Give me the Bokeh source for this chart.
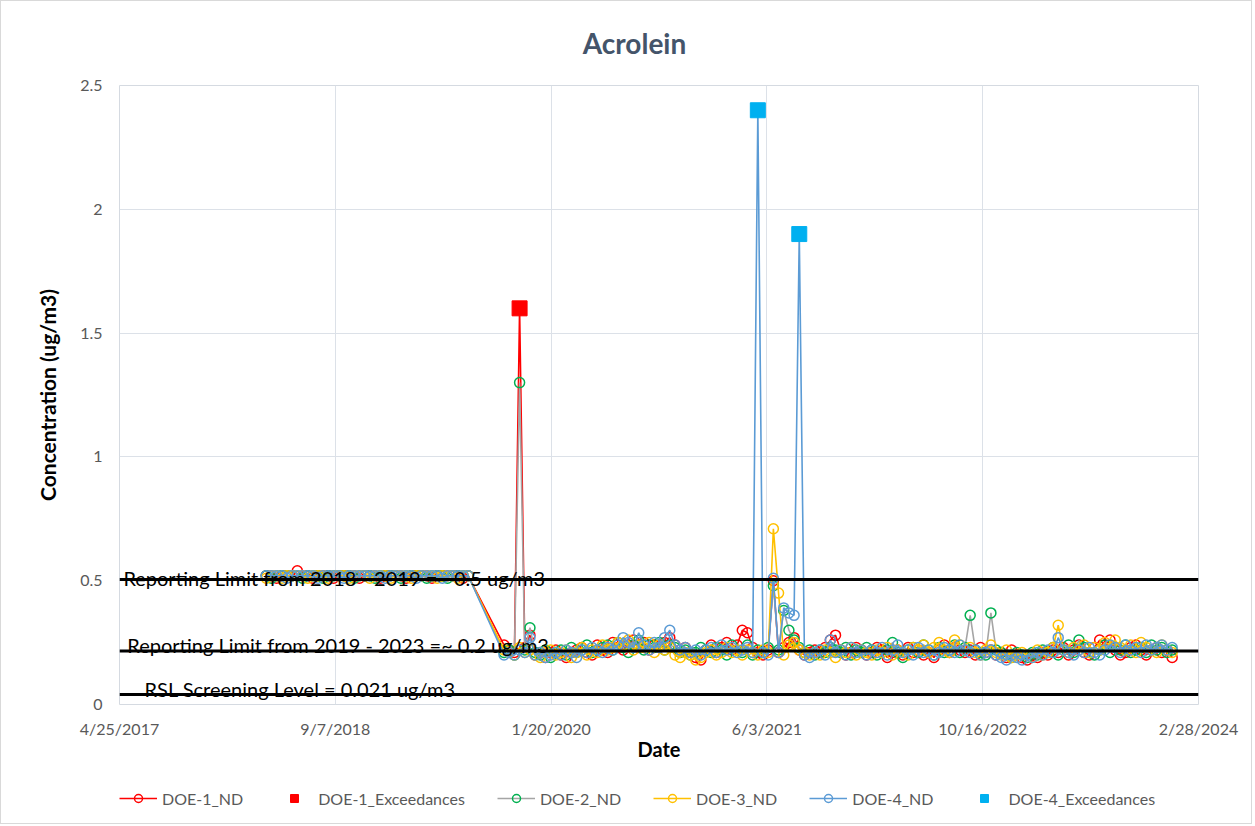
from datetime import datetime
from bokeh.plotting import figure
from bokeh.layouts import column
from bokeh.models import (Range1d, FixedTicker, Span, Label, Legend, LegendItem)
from bokeh.embed import file_html
from bokeh.resources import INLINE

# ---------------- data ----------------
chart_title = "Acrolein"
x_axis_title = "Date"
y_axis_title = "Concentration (ug/m3)"
x_tick_labels = ["4/25/2017", "9/7/2018", "1/20/2020", "6/3/2021", "10/16/2022", "2/28/2024"]
y_ticks = [0, 0.5, 1, 1.5, 2, 2.5]
y_tick_labels = ["0", "0.5", "1", "1.5", "2", "2.5"]

dates_2018_2019 = [
    "2018-03-31", "2018-04-12", "2018-04-24", "2018-05-06", "2018-05-18", "2018-05-30", "2018-06-11",
    "2018-06-23", "2018-07-05", "2018-07-17", "2018-07-29", "2018-08-10", "2018-08-22", "2018-09-03",
    "2018-09-15", "2018-09-27", "2018-10-09", "2018-10-21", "2018-11-02", "2018-11-14", "2018-11-26",
    "2018-12-08", "2018-12-20", "2019-01-01", "2019-01-13", "2019-01-25", "2019-02-06", "2019-02-18",
    "2019-03-02", "2019-03-14", "2019-03-26", "2019-04-07", "2019-04-19", "2019-05-01", "2019-05-13",
    "2019-05-25", "2019-06-06", "2019-06-18", "2019-06-30", "2019-07-12"]

dates_2019_2023 = [
    "2019-10-03", "2019-10-15", "2019-10-27", "2019-11-08", "2019-11-20", "2019-12-02", "2019-12-14", "2019-12-26",
    "2020-01-07", "2020-01-19", "2020-01-31", "2020-02-12", "2020-02-24", "2020-03-07", "2020-03-19", "2020-03-31",
    "2020-04-12", "2020-04-24", "2020-05-06", "2020-05-18", "2020-05-30", "2020-06-11", "2020-06-23", "2020-07-05",
    "2020-07-17", "2020-07-29", "2020-08-10", "2020-08-22", "2020-09-03", "2020-09-15", "2020-09-27", "2020-10-09",
    "2020-10-21", "2020-11-02", "2020-11-14", "2020-11-26", "2020-12-08", "2020-12-20",
    "2021-01-01", "2021-01-13", "2021-01-25", "2021-02-06", "2021-02-18", "2021-03-02", "2021-03-14", "2021-03-26",
    "2021-04-07", "2021-04-19", "2021-05-01", "2021-05-13", "2021-05-25", "2021-06-06", "2021-06-18", "2021-06-30",
    "2021-07-12", "2021-07-24", "2021-08-05", "2021-08-17", "2021-08-29", "2021-09-10", "2021-09-22", "2021-10-04",
    "2021-10-16", "2021-10-28", "2021-11-09", "2021-11-21", "2021-12-03", "2021-12-15", "2021-12-27",
    "2022-01-08", "2022-01-20", "2022-02-01", "2022-02-13", "2022-02-25", "2022-03-09", "2022-03-21", "2022-04-02",
    "2022-04-14", "2022-04-26", "2022-05-08", "2022-05-20", "2022-06-01", "2022-06-13", "2022-06-25", "2022-07-07",
    "2022-07-19", "2022-07-31", "2022-08-12", "2022-08-24", "2022-09-05", "2022-09-17", "2022-09-29", "2022-10-11",
    "2022-10-23", "2022-11-04", "2022-11-16", "2022-11-28", "2022-12-10", "2022-12-22",
    "2023-01-03", "2023-01-15", "2023-01-27", "2023-02-08", "2023-02-20", "2023-03-04", "2023-03-16", "2023-03-28",
    "2023-04-09", "2023-04-21", "2023-05-03", "2023-05-15", "2023-05-27", "2023-06-08", "2023-06-20", "2023-07-02",
    "2023-07-14", "2023-07-26", "2023-08-07", "2023-08-19", "2023-08-31", "2023-09-12", "2023-09-24", "2023-10-06",
    "2023-10-18", "2023-10-30", "2023-11-11", "2023-11-23", "2023-12-05", "2023-12-17", "2023-12-29"]

doe1_2018_2019 = [0.52, 0.52, 0.51, 0.52, 0.52, 0.52, 0.54, 0.52, 0.52, 0.51,
                  0.52, 0.52, 0.52, 0.51, 0.52, 0.52, 0.52, 0.52, 0.51, 0.52,
                  0.52, 0.52, 0.51, 0.52, 0.52, 0.52, 0.52, 0.51, 0.52, 0.52,
                  0.52, 0.52, 0.51, 0.52, 0.52, 0.52, 0.52, 0.52, 0.51, 0.52]
doe2_2018_2019 = [0.52, 0.51, 0.52, 0.52, 0.52, 0.52, 0.52, 0.51, 0.52, 0.52,
                  0.52, 0.51, 0.52, 0.52, 0.52, 0.52, 0.52, 0.51, 0.52, 0.52,
                  0.52, 0.51, 0.52, 0.52, 0.52, 0.52, 0.51, 0.52, 0.52, 0.52,
                  0.52, 0.51, 0.52, 0.52, 0.52, 0.51, 0.52, 0.52, 0.52, 0.52]
doe3_2018_2019 = [0.51, 0.52, 0.52, 0.51, 0.52, 0.52, 0.52, 0.52, 0.51, 0.52,
                  0.52, 0.52, 0.51, 0.52, 0.52, 0.52, 0.51, 0.52, 0.52, 0.52,
                  0.51, 0.52, 0.52, 0.52, 0.51, 0.52, 0.52, 0.52, 0.51, 0.52,
                  0.52, 0.52, 0.52, 0.51, 0.52, 0.52, 0.52, 0.51, 0.52, 0.52]
doe4_2018_2019 = [0.52, 0.52, 0.52, 0.52, 0.51, 0.52, 0.52, 0.52, 0.52, 0.52,
                  0.51, 0.52, 0.52, 0.52, 0.52, 0.51, 0.52, 0.52, 0.52, 0.52,
                  0.52, 0.52, 0.52, 0.51, 0.52, 0.52, 0.52, 0.52, 0.52, 0.51,
                  0.52, 0.52, 0.52, 0.52, 0.51, 0.52, 0.52, 0.52, 0.52, 0.52]

doe1_2019_2023 = [0.24, 0.22, 0.21, 1.60, 0.23, 0.28, 0.20, 0.21, 0.19, 0.21,
                  0.22, 0.20, 0.19, 0.21, 0.22, 0.23, 0.21, 0.20, 0.24, 0.22,
                  0.21, 0.25, 0.23, 0.22, 0.24, 0.26, 0.23, 0.25, 0.22, 0.24,
                  0.23, 0.25, 0.27, 0.24, 0.22, 0.23, 0.21, 0.19, 0.18, 0.22,
                  0.24, 0.21, 0.23, 0.25, 0.22, 0.24, 0.30, 0.29, 0.23, 0.21,
                  0.20, 0.22, 0.50, 0.21, 0.23, 0.25, 0.27, 0.22, 0.20, 0.21,
                  0.22, 0.21, 0.23, 0.26, 0.28, 0.22, 0.20, 0.21, 0.23, 0.22,
                  0.20, 0.21, 0.23, 0.22, 0.19, 0.21, 0.22, 0.20, 0.23, 0.21,
                  0.22, 0.20, 0.21, 0.19, 0.22, 0.24, 0.21, 0.23, 0.22, 0.21,
                  0.22, 0.20, 0.23, 0.21, 0.22, 0.20, 0.21, 0.19, 0.22, 0.20,
                  0.19, 0.18, 0.20, 0.19, 0.21, 0.20, 0.22, 0.21, 0.23, 0.20,
                  0.22, 0.24, 0.21, 0.20, 0.23, 0.26, 0.24, 0.26, 0.22, 0.20,
                  0.21, 0.23, 0.24, 0.22, 0.20, 0.22, 0.23, 0.21, 0.22, 0.19]
doe2_2019_2023 = [0.21, 0.22, 0.20, 1.30, 0.22, 0.31, 0.21, 0.20, 0.22, 0.19,
                  0.21, 0.22, 0.20, 0.23, 0.21, 0.22, 0.24, 0.21, 0.22, 0.23,
                  0.24, 0.22, 0.25, 0.23, 0.21, 0.24, 0.26, 0.22, 0.24, 0.23,
                  0.25, 0.22, 0.24, 0.23, 0.21, 0.22, 0.20, 0.21, 0.23, 0.22,
                  0.21, 0.23, 0.22, 0.20, 0.24, 0.22, 0.21, 0.24, 0.20, 0.22,
                  0.21, 0.23, 0.48, 0.22, 0.38, 0.30, 0.26, 0.23, 0.21, 0.22,
                  0.20, 0.22, 0.21, 0.23, 0.22, 0.21, 0.23, 0.20, 0.22, 0.21,
                  0.23, 0.22, 0.20, 0.21, 0.22, 0.25, 0.21, 0.19, 0.22, 0.23,
                  0.21, 0.24, 0.22, 0.20, 0.23, 0.21, 0.22, 0.24, 0.21, 0.23,
                  0.36, 0.22, 0.21, 0.20, 0.37, 0.22, 0.21, 0.20, 0.19, 0.21,
                  0.20, 0.19, 0.21, 0.20, 0.22, 0.21, 0.23, 0.20, 0.22, 0.24,
                  0.21, 0.26, 0.23, 0.21, 0.20, 0.22, 0.24, 0.21, 0.23, 0.22,
                  0.24, 0.21, 0.22, 0.23, 0.21, 0.24, 0.22, 0.23, 0.21, 0.22]
doe3_2019_2023 = [0.22, 0.21, 0.20, 0.23, 0.21, 0.22, 0.20, 0.19, 0.21, 0.22,
                  0.20, 0.21, 0.22, 0.19, 0.21, 0.23, 0.20, 0.22, 0.21, 0.24,
                  0.22, 0.23, 0.25, 0.24, 0.26, 0.22, 0.24, 0.23, 0.25, 0.21,
                  0.24, 0.22, 0.23, 0.20, 0.19, 0.21, 0.20, 0.18, 0.19, 0.21,
                  0.22, 0.20, 0.21, 0.23, 0.21, 0.22, 0.20, 0.22, 0.21, 0.20,
                  0.22, 0.21, 0.71, 0.45, 0.20, 0.24, 0.25, 0.22, 0.21, 0.20,
                  0.21, 0.20, 0.22, 0.21, 0.19, 0.22, 0.21, 0.23, 0.20, 0.22,
                  0.21, 0.20, 0.22, 0.21, 0.23, 0.20, 0.22, 0.21, 0.20, 0.23,
                  0.22, 0.24, 0.21, 0.23, 0.25, 0.22, 0.21, 0.26, 0.24, 0.22,
                  0.23, 0.21, 0.20, 0.22, 0.24, 0.21, 0.20, 0.22, 0.19, 0.20,
                  0.21, 0.20, 0.19, 0.22, 0.20, 0.21, 0.23, 0.32, 0.22, 0.21,
                  0.23, 0.22, 0.24, 0.21, 0.23, 0.22, 0.25, 0.24, 0.26, 0.23,
                  0.22, 0.24, 0.21, 0.25, 0.23, 0.22, 0.21, 0.24, 0.22, 0.21]
doe4_2019_2023 = [0.20, 0.21, 0.20, 0.22, 0.21, 0.27, 0.20, 0.21, 0.19, 0.20,
                  0.21, 0.20, 0.22, 0.21, 0.19, 0.22, 0.21, 0.23, 0.22, 0.21,
                  0.23, 0.22, 0.24, 0.27, 0.25, 0.23, 0.29, 0.24, 0.22, 0.25,
                  0.23, 0.27, 0.30, 0.24, 0.22, 0.23, 0.21, 0.22, 0.20, 0.22,
                  0.23, 0.21, 0.24, 0.22, 0.23, 0.21, 0.22, 0.23, 0.21, 2.40,
                  0.21, 0.20, 0.51, 0.21, 0.39, 0.37, 0.36, 1.90, 0.20, 0.19,
                  0.21, 0.22, 0.20, 0.26, 0.21, 0.22, 0.20, 0.23, 0.21, 0.22,
                  0.20, 0.22, 0.21, 0.23, 0.20, 0.22, 0.24, 0.21, 0.22, 0.20,
                  0.23, 0.21, 0.22, 0.20, 0.21, 0.23, 0.22, 0.21, 0.24, 0.22,
                  0.21, 0.22, 0.20, 0.21, 0.22, 0.20, 0.19, 0.18, 0.20, 0.19,
                  0.18, 0.20, 0.19, 0.21, 0.20, 0.22, 0.21, 0.27, 0.22, 0.21,
                  0.20, 0.22, 0.21, 0.23, 0.21, 0.20, 0.22, 0.24, 0.23, 0.21,
                  0.24, 0.22, 0.23, 0.21, 0.24, 0.22, 0.23, 0.24, 0.22, 0.23]

doe1_exceed_dates = ["2019-11-08"]
doe1_exceed_values = [1.6]
doe4_exceed_dates = ["2021-05-13", "2021-08-17"]
doe4_exceed_values = [2.4, 1.9]

reference_levels = [0.505, 0.216, 0.04]
reference_texts = ["Reporting Limit from 2018 - 2019 =~ 0.5 ug/m3",
                   "Reporting Limit from 2019 - 2023 =~ 0.2 ug/m3",
                   "RSL Screening Level = 0.021 ug/m3"]

# ---------------- helpers ----------------
EPOCH = datetime(1970, 1, 1)


def parse_md(s):
    return datetime.strptime(s, "%m/%d/%Y")


def parse_iso(s):
    return datetime.strptime(s, "%Y-%m-%d")


def ms(dt):
    return (dt - EPOCH).total_seconds() * 1000.0


FONT = "Lato"
TICK_COLOR = "#595959"
W = 1250
TITLE_H = 60
LEGEND_H = 52
LEFT, RIGHT = 118, 53
FRAME_X0 = 120  # page x of the aligned plot frames


def bare_figure(height):
    f = figure(width=W, height=height, output_backend="svg", toolbar_location=None,
               x_range=Range1d(0, 1), y_range=Range1d(0, 1),
               x_axis_location=None, y_axis_location=None,
               min_border_left=LEFT, min_border_right=RIGHT,
               min_border_top=0, min_border_bottom=0)
    f.grid.visible = False
    f.outline_line_color = None
    f.background_fill_color = "white"
    f.border_fill_color = "white"
    return f


# ---------------- title strip ----------------
title_fig = bare_figure(TITLE_H)
title_fig.add_layout(Label(x=635 - FRAME_X0, y=TITLE_H - 41, x_units="screen", y_units="screen",
                           text=chart_title, text_align="center", text_baseline="middle",
                           text_font=FONT, text_font_size="28px", text_font_style="bold",
                           text_color="#44546A"))

# ---------------- main chart ----------------
tick_dts = [parse_md(s) for s in x_tick_labels]
tick_ms = [ms(d) for d in tick_dts]

p = figure(width=W, height=710, x_axis_type="datetime", output_backend="svg",
           toolbar_location=None,
           x_range=Range1d(tick_dts[0], tick_dts[-1]), y_range=Range1d(y_ticks[0], y_ticks[-1]),
           min_border_left=LEFT, min_border_right=RIGHT, min_border_top=84 - TITLE_H, min_border_bottom=67)
p.background_fill_color = "white"
p.border_fill_color = "white"
p.outline_line_color = "#D5DAE1"

p.xaxis.ticker = FixedTicker(ticks=tick_ms)
p.xaxis.major_label_overrides = {t: lab for t, lab in zip(tick_ms, x_tick_labels)}
p.yaxis.ticker = FixedTicker(ticks=y_ticks)
p.yaxis.major_label_overrides = {t: lab for t, lab in zip(y_ticks, y_tick_labels)}
for ax in (p.xaxis[0], p.yaxis[0]):
    ax.axis_line_color = None
    ax.major_tick_line_color = None
    ax.minor_tick_line_color = None
    ax.major_tick_out = 0
    ax.major_tick_in = 0
    ax.major_label_text_font = FONT
    ax.major_label_text_font_size = "16px"
    ax.major_label_text_color = TICK_COLOR
    ax.axis_label_text_font = FONT
    ax.axis_label_text_font_style = "bold"
    ax.axis_label_text_color = "black"
p.xaxis.axis_label = x_axis_title
p.yaxis.axis_label = y_axis_title
p.xaxis.axis_label_text_font_size = "20px"
p.yaxis.axis_label_text_font_size = "21px"
p.xaxis.major_label_standoff = 14
p.xaxis.axis_label_standoff = -4
p.yaxis.major_label_standoff = 17
p.yaxis.axis_label_standoff = 17

p.xgrid.grid_line_color = "#DCE1E8"
p.ygrid.grid_line_color = "#DCE1E8"

label_pos = [(parse_iso("2017-05-04"), 0.509), (parse_iso("2017-05-13"), 0.242), (parse_iso("2017-06-22"), 0.061)]
for lv in reference_levels:
    p.add_layout(Span(location=lv, dimension="width", line_color="black", line_width=3))
for txt, (lx, ly) in zip(reference_texts, label_pos):
    p.add_layout(Label(x=ms(lx), y=ly, text=txt, text_font=FONT, text_font_size="20px",
                       text_color="black", text_baseline="alphabetic"))

all_dates = [parse_iso(s) for s in dates_2018_2019 + dates_2019_2023]
series = [
    ("DOE-1_ND", doe1_2018_2019 + doe1_2019_2023, "#FF0000", "#FF0000"),
    ("DOE-2_ND", doe2_2018_2019 + doe2_2019_2023, "#A5A5A5", "#00B050"),
    ("DOE-3_ND", doe3_2018_2019 + doe3_2019_2023, "#FFC000", "#FFC000"),
    ("DOE-4_ND", doe4_2018_2019 + doe4_2019_2023, "#5B9BD5", "#5B9BD5"),
]
exceed = [
    ("DOE-1_Exceedances", [parse_iso(s) for s in doe1_exceed_dates], doe1_exceed_values, "#FF0000"),
    ("DOE-4_Exceedances", [parse_iso(s) for s in doe4_exceed_dates], doe4_exceed_values, "#00B0F0"),
]


def draw_series(fig):
    """Draw all series on fig; return legend items in the reference's order."""
    out = {}
    for name, vals, lc, mc in series:
        lr = fig.line(all_dates, vals, line_color=lc, line_width=1.6)
        sr = fig.scatter(all_dates, vals, marker="circle", size=10, line_color=mc,
                         line_width=1.5, fill_alpha=0)
        out[name] = [lr, sr]
    for name, dts, vals, c in exceed:
        out[name] = [fig.scatter(dts, vals, marker="square", size=15, fill_color=c, line_color=c)]
    order = ["DOE-1_ND", "DOE-1_Exceedances", "DOE-2_ND", "DOE-3_ND", "DOE-4_ND", "DOE-4_Exceedances"]
    return [LegendItem(label=n, renderers=out[n]) for n in order]


draw_series(p)

# ---------------- legend strip ----------------
# the same series are drawn on a strip whose ranges keep them out of view; only its legend shows
leg_fig = bare_figure(LEGEND_H)
items = draw_series(leg_fig)
legend = Legend(items=items, orientation="horizontal", location=(0, LEGEND_H - 27 - 10),
                glyph_width=38, glyph_height=20, label_standoff=5, spacing=32,
                padding=0, margin=0, border_line_color=None, background_fill_alpha=0,
                label_text_font=FONT, label_text_font_size="16px", label_text_color=TICK_COLOR)
leg_fig.add_layout(legend, "center")

layout = column(title_fig, p, leg_fig, spacing=0)
layout.styles = {"border": "1px solid #D9D9D9"}

open("out.html", "w").write(file_html(layout, INLINE))
